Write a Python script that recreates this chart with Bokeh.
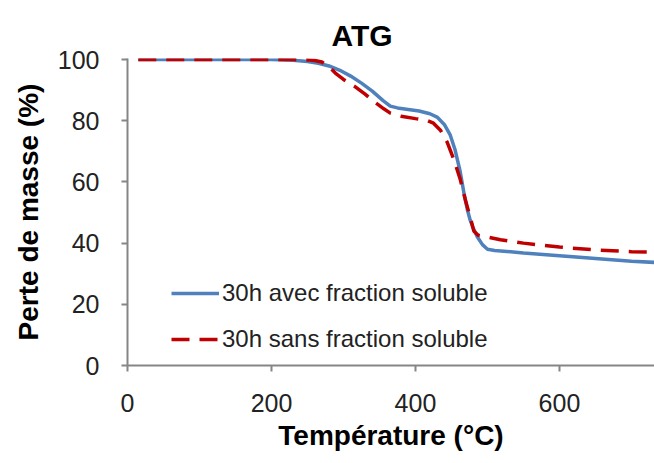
from bokeh.plotting import figure
from bokeh.models import Range1d, FixedTicker, Legend, LegendItem
from bokeh.embed import file_html
from bokeh.resources import INLINE

# ---- data ----
temp_avec = [15, 50, 100, 150, 200, 230, 250, 265, 280, 295, 310, 325, 340, 355, 365, 375, 390,
             405, 420, 430, 440, 448, 455, 462, 468, 472, 476, 480, 486, 493, 500, 510, 550,
             600, 650, 700, 732]
mass_avec = [100, 100, 100, 100, 100, 99.8, 99.4, 98.8, 97.9, 96.5, 94.6, 92.3, 89.7, 86.6, 84.8,
             84.2, 83.7, 83.2, 82.3, 81.2, 78.8, 75.5, 70.5, 63.5, 55.5, 51, 47.5, 45, 42, 39.5,
             38, 37.6, 36.8, 35.9, 35.0, 34.1, 33.7]

temp_sans = [15, 50, 100, 150, 200, 230, 250, 260, 270, 280, 290, 300, 315, 330, 345, 356, 365,
             380, 400, 415, 425, 435, 444, 453, 462, 470, 476, 481, 487, 500, 518, 550, 600,
             650, 700, 732]
mass_sans = [100, 100, 100, 100, 100, 100, 99.9, 99.7, 99.2, 97.6, 95.3, 93.5, 91.3, 88.7, 85.8,
             83.9, 82.5, 81.5, 80.7, 80.2, 79.2, 76.8, 73.0, 67.5, 61.0, 53.5, 48.5, 44.0, 42.6,
             42.0, 41.1, 40.0, 38.7, 37.8, 37.2, 37.0]

x_ticks = [0, 200, 400, 600]
y_ticks = [0, 20, 40, 60, 80, 100]

label_avec = "30h avec fraction soluble"
label_sans = "30h sans fraction soluble"

FONT = "Liberation Sans"
AXIS_COLOR = "#868686"

p = figure(width=654, height=463, output_backend="svg", toolbar_location=None,
           x_range=Range1d(0, 732), y_range=Range1d(0, 100.35),
           min_border_left=127, min_border_right=0, min_border_top=58, min_border_bottom=98,
           title="ATG")
p.outline_line_color = None
p.grid.grid_line_color = None

p.title.text_font = FONT
p.title.text_font_size = "30px"
p.title.text_font_style = "bold"
p.title.text_color = "#000000"
p.title.align = "left"
p.title.offset = 204
p.title.standoff = 10
p.title.vertical_align = "top"

for ax in (p.xaxis[0], p.yaxis[0]):
    ax.axis_line_color = AXIS_COLOR
    ax.axis_line_width = 2
    ax.major_tick_line_color = AXIS_COLOR
    ax.major_tick_line_width = 2
    ax.major_tick_in = 0
    ax.major_tick_out = 6
    ax.minor_tick_line_color = None
    ax.major_label_text_font = FONT
    ax.major_label_text_font_size = "25px"
    ax.major_label_text_color = "#222222"
    ax.axis_label_text_font = FONT
    ax.axis_label_text_font_style = "bold"
    ax.axis_label_text_color = "#000000"

p.xaxis.ticker = FixedTicker(ticks=x_ticks)
p.yaxis.ticker = FixedTicker(ticks=y_ticks)
p.xaxis.axis_label = "Température (°C)"
p.yaxis.axis_label = "Perte de masse (%)"
p.xaxis.axis_label_text_font_size = "28px"
p.yaxis.axis_label_text_font_size = "28px"
p.xaxis.major_label_standoff = 22
p.yaxis.major_label_standoff = 22
p.xaxis.axis_label_standoff = 5
p.yaxis.axis_label_standoff = 11

r_avec = p.line(temp_avec, mass_avec, line_color="#4F81BD", line_width=3.5)
r_sans = p.line(temp_sans, mass_sans, line_color="#C00000", line_width=3.5, line_dash="18 10")

legend = Legend(items=[LegendItem(label=label_avec, renderers=[r_avec]),
                       LegendItem(label=label_sans, renderers=[r_sans])],
                location=(44, 12), padding=0, margin=0, spacing=18,
                glyph_width=48, glyph_height=20, label_standoff=3,
                label_text_font=FONT, label_text_font_size="24px", label_text_color="#222222",
                border_line_color=None, background_fill_alpha=0)
p.add_layout(legend)

open("out.html", "w").write(file_html(p, INLINE))
